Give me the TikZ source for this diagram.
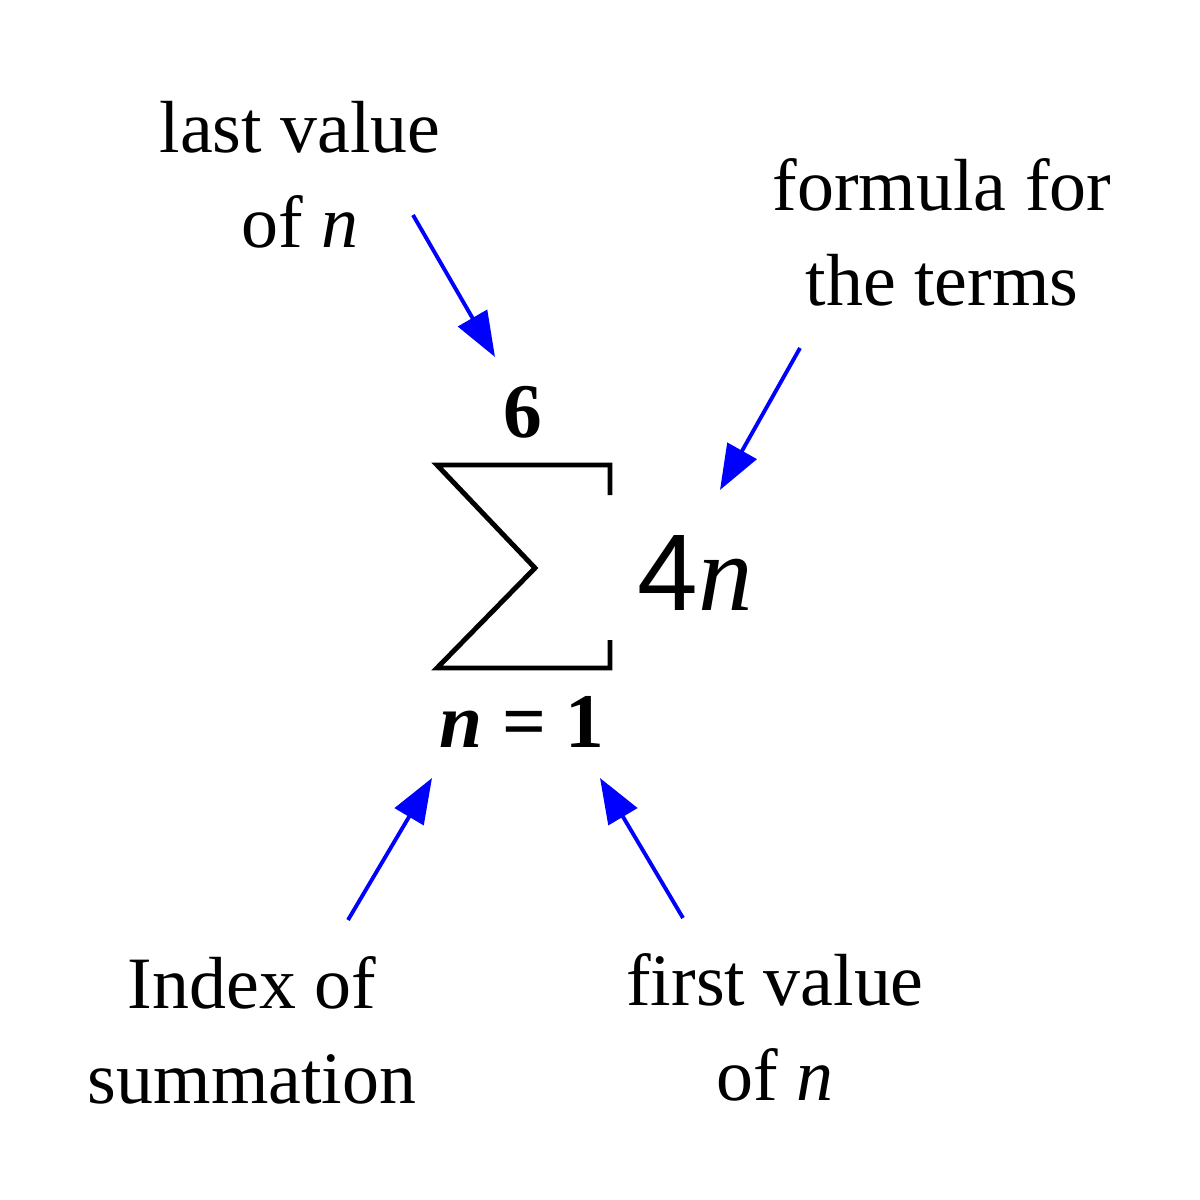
\documentclass[tikz,border=0pt]{standalone}
\usepackage{fontspec}
\setmainfont{Liberation Serif}
\newfontfamily\sansf{Liberation Sans}
\usetikzlibrary{arrows.meta}
\begin{document}
\begin{tikzpicture}[x=0.01cm,y=-0.01cm,
  lbl/.style={align=center,font=\fontsize{21}{27}\selectfont,inner sep=0},
  arr/.style={blue,line width=1.1pt,-{Triangle[length=0.45cm,width=0.33cm]}},
  sig/.style={line width=1.4pt,line join=miter}]
\useasboundingbox (0,0) rectangle (1200,1200);
\node[lbl] (last) at (300,175) {last value\\of \textit{n}};
\node[lbl] (form) at (942,232) {formula for\\the terms};
\node[lbl] (index) at (252,1030) {Index of\\summation};
\node[lbl] (first) at (775,1027) {first value\\of \textit{n}};
\draw[sig] (610,495) -- (610,465) -- (437,465) -- (535,568) -- (437,668) -- (610,668) -- (610,640);
\node[font=\fontsize{22}{26}\selectfont\bfseries] (six) at (523,412) {6};
\node[font=\fontsize{22}{26}\selectfont\bfseries] (low) at (522,722) {\textit{n} = 1};
\node[font=\fontsize{31}{36}\selectfont,anchor=west] (term) at (625,573) {{\sansf 4}\textit{n}};
\coordinate (a1) at (413,215); \coordinate (b1) at (495,357);
\coordinate (a2) at (800,348); \coordinate (b2) at (720,490);
\coordinate (a3) at (348,920); \coordinate (b3) at (432,778);
\coordinate (a4) at (683,918); \coordinate (b4) at (600,778);
\draw[arr] (a1) -- (b1);
\draw[arr] (a2) -- (b2);
\draw[arr] (a3) -- (b3);
\draw[arr] (a4) -- (b4);
\end{tikzpicture}
\end{document}
